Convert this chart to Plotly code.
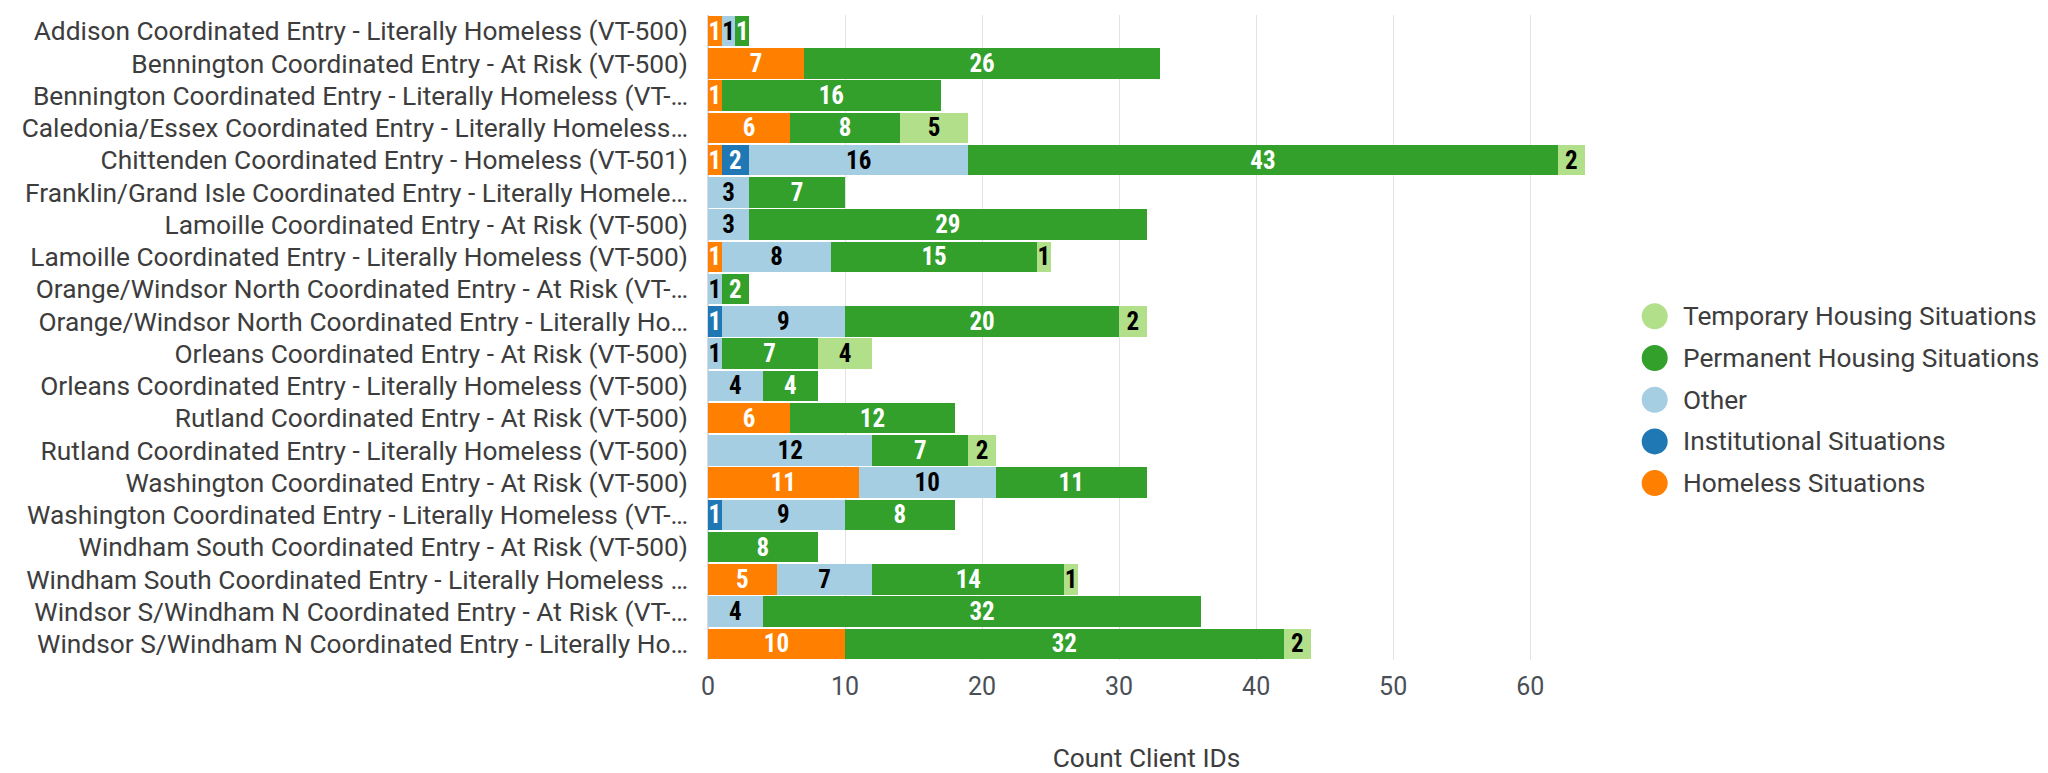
import plotly.graph_objects as go

categories = [
    "Addison Coordinated Entry - Literally Homeless (VT-500)",
    "Bennington Coordinated Entry - At Risk (VT-500)",
    "Bennington Coordinated Entry - Literally Homeless (VT-…",
    "Caledonia/Essex Coordinated Entry - Literally Homeless…",
    "Chittenden Coordinated Entry - Homeless (VT-501)",
    "Franklin/Grand Isle Coordinated Entry - Literally Homele…",
    "Lamoille Coordinated Entry - At Risk (VT-500)",
    "Lamoille Coordinated Entry - Literally Homeless (VT-500)",
    "Orange/Windsor North Coordinated Entry - At Risk (VT-…",
    "Orange/Windsor North Coordinated Entry - Literally Ho…",
    "Orleans Coordinated Entry - At Risk (VT-500)",
    "Orleans Coordinated Entry - Literally Homeless (VT-500)",
    "Rutland Coordinated Entry - At Risk (VT-500)",
    "Rutland Coordinated Entry - Literally Homeless (VT-500)",
    "Washington Coordinated Entry - At Risk (VT-500)",
    "Washington Coordinated Entry - Literally Homeless (VT-…",
    "Windham South Coordinated Entry - At Risk (VT-500)",
    "Windham South Coordinated Entry - Literally Homeless …",
    "Windsor S/Windham N Coordinated Entry - At Risk (VT-…",
    "Windsor S/Windham N Coordinated Entry - Literally Ho…",
]

homeless      = [1, 7, 1, 6, 1, None, None, 1, None, None, None, None, 6, None, 11, None, None, 5, None, 10]
institutional = [None, None, None, None, 2, None, None, None, None, 1, None, None, None, None, None, 1, None, None, None, None]
other         = [1, None, None, None, 16, 3, 3, 8, 1, 9, 1, 4, None, 12, 10, 9, None, 7, 4, None]
permanent     = [1, 26, 16, 8, 43, 7, 29, 15, 2, 20, 7, 4, 12, 7, 11, 8, 8, 14, 32, 32]
temporary     = [None, None, None, 5, 2, None, None, 1, None, 2, 4, None, None, 2, None, None, None, 1, None, 2]

series = [
    ("Homeless Situations", homeless, "#ff7f00", "white"),
    ("Institutional Situations", institutional, "#1f78b4", "white"),
    ("Other", other, "#a6cee3", "black"),
    ("Permanent Housing Situations", permanent, "#33a02c", "white"),
    ("Temporary Housing Situations", temporary, "#b2df8a", "black"),
]

label_font = "Roboto Condensed, Liberation Sans Narrow, DejaVu Sans Condensed, Roboto, sans-serif"
text_color = "#3d3d3d"

fig = go.Figure()
for name, vals, color, tcolor in series:
    fig.add_trace(go.Bar(
        y=categories, x=vals, orientation="h", name=name,
        marker=dict(color=color, line=dict(width=0)),
        text=[("" if v is None else str(v)) for v in vals],
        textposition="inside", insidetextanchor="middle", textangle=0,
        textfont=dict(family=label_font, size=25, color=tcolor, weight="bold"),
        showlegend=False, hoverinfo="skip",
    ))

# custom legend with large circular markers (top to bottom: reversed stack order)
plot_left, plot_w, plot_top, plot_h = 700, 877, 7, 645
legend_items = list(reversed(series))
for i, (name, vals, color, tcolor) in enumerate(legend_items):
    cy = 308.3 + i * 41.7
    yp = (plot_top + plot_h - cy) / plot_h
    fig.add_shape(type="circle", xref="paper", yref="paper",
                  xsizemode="pixel", ysizemode="pixel",
                  xanchor=(1646.7 - plot_left) / plot_w, yanchor=yp,
                  x0=-13, x1=13, y0=-13, y1=13,
                  fillcolor=color, line=dict(width=0))
    fig.add_annotation(xref="paper", yref="paper",
                       x=(1673 - plot_left) / plot_w, y=yp,
                       xanchor="left", yanchor="middle", showarrow=False,
                       text=name, font=dict(size=26.3, color=text_color))

fig.update_layout(
    width=2048, height=773,
    barmode="stack", bargap=0.06,
    uniformtext=dict(minsize=25, mode="show"),
    plot_bgcolor="white", paper_bgcolor="white",
    margin=dict(l=700, r=471, t=7, b=121, autoexpand=False),
    font=dict(family="Roboto, sans-serif", size=25, color=text_color),
    showlegend=False,
    xaxis=dict(range=[0, 64], dtick=10, showgrid=True, gridcolor="#e3e3e3", gridwidth=1,
               zeroline=True, zerolinecolor="#d6dbe6", zerolinewidth=2,
               ticklabelstandoff=9, tickfont=dict(size=25, color="#4a4f57"),
               title=dict(text="Count Client IDs", standoff=48,
                          font=dict(size=26.3, color=text_color))),
    yaxis=dict(autorange="reversed", showgrid=False, ticks="", ticklabelstandoff=19,
               tickfont=dict(size=26.3, color=text_color)),
)

fig.write_html("out.html")
